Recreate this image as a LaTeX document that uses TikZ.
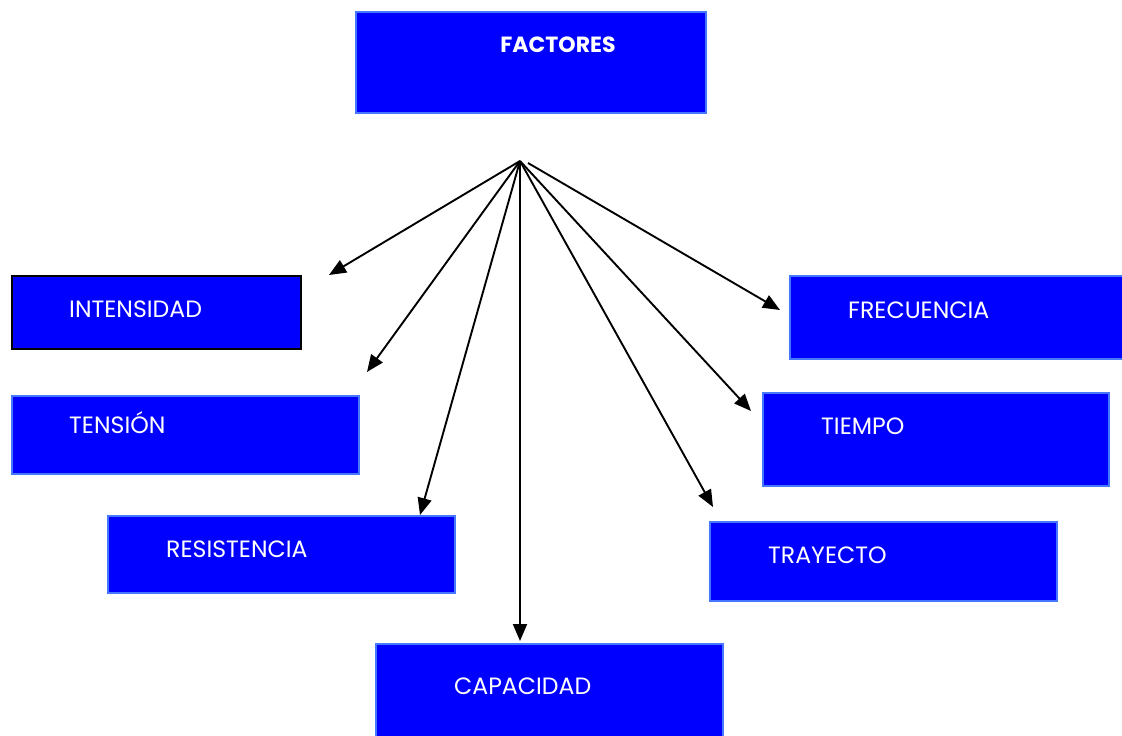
\documentclass[tikz,border=0pt]{standalone}
\usepackage{fontspec}
\setmainfont{Poppins}
\usetikzlibrary{arrows.meta}
\definecolor{boxfill}{RGB}{0,0,255}
\definecolor{boxline}{RGB}{70,120,255}
\begin{document}
\begin{tikzpicture}[x=1pt,y=-1pt,
  box/.style={draw=boxline, fill=boxfill, line width=1.6pt, anchor=north west, inner sep=0pt},
  blackbox/.style={box, draw=black},
  lbl/.style={anchor=base west, text=white, inner sep=0pt, font=\fontsize{23.6}{26}\selectfont},
  title/.style={anchor=base, text=white, inner sep=0pt, font=\fontsize{22}{26}\selectfont\bfseries},
  arr/.style={line width=1.9pt, -{Triangle[length=17pt,width=14pt]}}]
\useasboundingbox (0,0) rectangle (1122,736);
\clip (0,0) rectangle (1122,736);
% boxes
\node[box, minimum width=350pt, minimum height=101pt] (factores) at (355,11) {};
\node[blackbox, minimum width=289pt, minimum height=73pt] (intensidad) at (11,275) {};
\node[box, minimum width=347pt, minimum height=78pt] (tension) at (11,395) {};
\node[box, minimum width=347pt, minimum height=77pt] (resistencia) at (107,515) {};
\node[box, minimum width=347pt, minimum height=110pt] (capacidad) at (375,643) {};
\node[box, minimum width=347pt, minimum height=79pt] (trayecto) at (709,521) {};
\node[box, minimum width=346pt, minimum height=93pt] (tiempo) at (762,392) {};
\node[box, minimum width=350pt, minimum height=83pt] (frecuencia) at (789,275) {};
% labels
\node[title] (tfactores) at (558,52) {FACTORES};
\node[lbl] (tintensidad) at (69,317) {INTENSIDAD};
\node[lbl] (ttension) at (69,433) {TENSIÓN};
\node[lbl] (tresistencia) at (166,557) {RESISTENCIA};
\node[lbl] (tcapacidad) at (454,694) {CAPACIDAD};
\node[lbl] (ttrayecto) at (768,563) {TRAYECTO};
\node[lbl] (ttiempo) at (821,434) {TIEMPO};
\node[lbl] (tfrecuencia) at (848,318) {FRECUENCIA};
% connector points
\coordinate (hub) at (520,161);
\coordinate (hub2) at (528,163);
\coordinate (eint) at (329,275);
\coordinate (eten) at (367,372);
\coordinate (eres) at (420,515);
\coordinate (ecap) at (520,641);
\coordinate (etra) at (713,507);
\coordinate (etie) at (751,411);
\coordinate (efre) at (780,310);
\draw[arr] (hub) -- (eint);
\draw[arr] (hub) -- (eten);
\draw[arr] (hub) -- (eres);
\draw[arr] (hub) -- (ecap);
\draw[arr] (hub) -- (etra);
\draw[arr] (hub) -- (etie);
\draw[arr] (hub2) -- (efre);
\end{tikzpicture}
\end{document}
